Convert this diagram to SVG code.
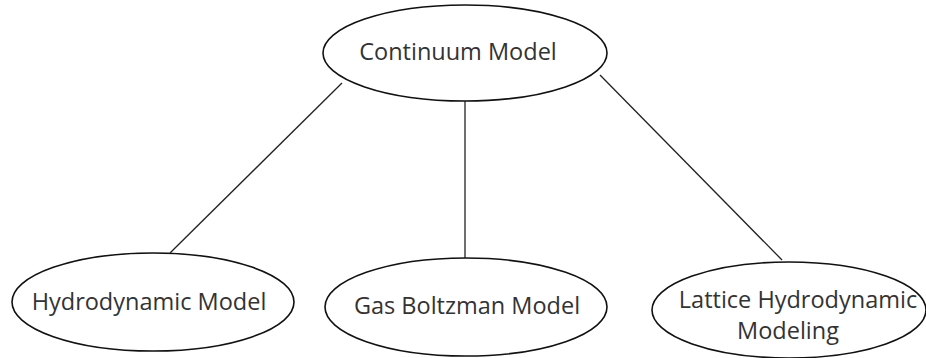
<svg xmlns="http://www.w3.org/2000/svg" width="926" height="358" viewBox="0 0 926 358">
<style>
.node ellipse{fill:#fff;stroke:#111;stroke-width:1.6}
.node text{font-family:"Open Sans","Noto Sans",sans-serif;font-size:23.5px;fill:#333;text-anchor:middle}
.edges line{stroke:#222;stroke-width:1.3}
</style>
<rect width="926" height="358" fill="#fff"/>
<g class="edges">
<line x1="342" y1="83" x2="170" y2="253"/>
<line x1="465" y1="101" x2="465" y2="258"/>
<line x1="600" y1="75" x2="782" y2="260"/>
</g>
<g class="node" id="continuum">
<ellipse cx="465" cy="53" rx="142" ry="48"/>
<text x="458" y="60">Continuum Model</text>
</g>
<g class="node" id="hydro">
<ellipse cx="153" cy="302" rx="141" ry="49"/>
<text x="149" y="310">Hydrodynamic Model</text>
</g>
<g class="node" id="gas">
<ellipse cx="466" cy="307" rx="141" ry="49"/>
<text x="467" y="314">Gas Boltzman Model</text>
</g>
<g class="node" id="lattice">
<ellipse cx="789" cy="310" rx="137" ry="48"/>
<text x="798" y="308">Lattice Hydrodynamic</text>
<text x="788" y="339">Modeling</text>
</g>
</svg>
